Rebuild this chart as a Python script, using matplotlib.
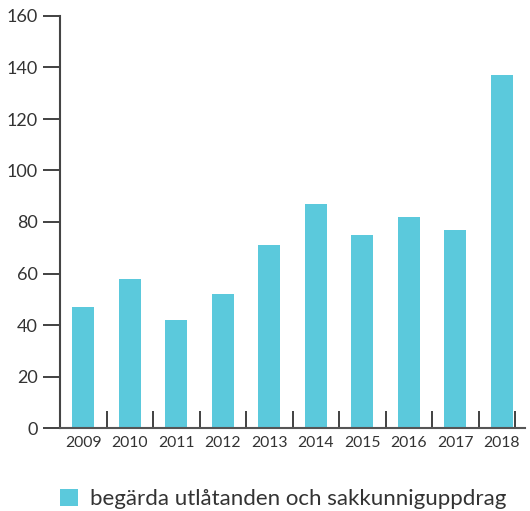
import matplotlib
matplotlib.use("Agg")
import matplotlib.pyplot as plt
from matplotlib.patches import Patch
import numpy as np

years = ["2009", "2010", "2011", "2012", "2013", "2014", "2015", "2016", "2017", "2018"]
values = [47, 58, 42, 52, 71, 87, 75, 82, 77, 137]
yticks = [0, 20, 40, 60, 80, 100, 120, 140, 160]
series_name = "begärda utlåtanden och sakkunniguppdrag"

plt.rcParams['font.family'] = ['Lato', 'DejaVu Sans']
color = "#5BC9DC"
text_color = "#333333"

fig = plt.figure(figsize=(5.30, 5.11), dpi=100)
ax = fig.add_axes([60/530, 83/511, 465/530, 412/511])

x = np.arange(len(years))
ax.bar(x, values, width=0.48, color=color, zorder=2)

ax.set_xlim(-0.5, len(years) - 0.5)
ax.set_ylim(0, 160)
ax.set_yticks(yticks)
ax.set_yticklabels([str(t) for t in yticks], fontsize=13, color=text_color)

ax.set_xticks(x)
ax.set_xticklabels(years, fontsize=11.3, color=text_color)
ax.tick_params(axis='x', which='major', length=0, pad=6)
bounds = list(np.arange(-0.5, len(years) - 1, 1.0)) + [len(years) - 0.72]
ax.set_xticks(bounds, minor=True)
ax.tick_params(axis='x', which='minor', direction='in', length=12, width=1.3, color="#333333")
ax.tick_params(axis='y', length=12, width=1.3, color="#333333", pad=4)

for s in ['top', 'right']:
    ax.spines[s].set_visible(False)
ax.spines['left'].set_color("#444444")
ax.spines['left'].set_linewidth(1.5)
ax.spines['bottom'].set_color("#555555")
ax.spines['bottom'].set_linewidth(1.5)

handle = Patch(facecolor=color, edgecolor='none')
fig.legend([handle], [series_name], loc='center left',
           bbox_to_anchor=(40/530, 1 - 499/511), frameon=False,
           fontsize=16, handlelength=0.8, handleheight=0.8,
           handletextpad=0.55, labelcolor=text_color)

fig.savefig("out.png", dpi=100)
